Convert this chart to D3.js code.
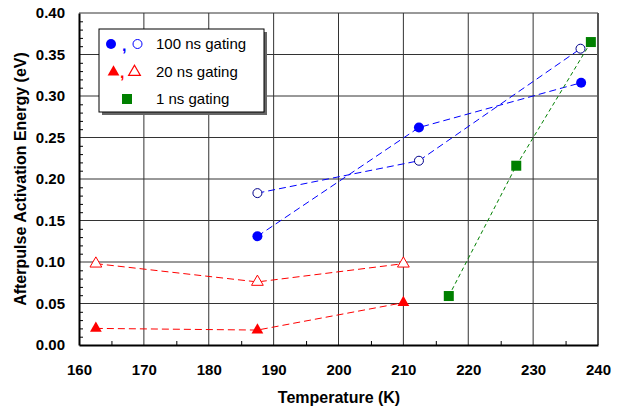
<!DOCTYPE html>
<html>
<head>
<meta charset="utf-8">
<script src="https://cdn.jsdelivr.net/npm/d3@7"></script>
<style>
  body { margin: 0; background: #fff; }
  svg { font-family: 'Liberation Sans', Arial, sans-serif; }
</style>
</head>
<body>
<svg id="chart"></svg>
<script>
// values
const temp100 = [187.5, 212.4, 237.4];
const filled100 = [0.131, 0.262, 0.316];
const tempOpen100 = [187.5, 212.4, 237.3];
const open100 = [0.183, 0.222, 0.357];

const temp20 = [162.6, 187.5, 210.0];
const filled20 = [0.020, 0.018, 0.051];
const open20 = [0.098, 0.076, 0.098];

const temp1 = [217.0, 227.4, 238.9];
const values1 = [0.059, 0.216, 0.365];

const xTicks = [160, 170, 180, 190, 200, 210, 220, 230, 240];
const yTicks = [0, 0.05, 0.10, 0.15, 0.20, 0.25, 0.30, 0.35, 0.40];
const xMinor = [165, 175, 185, 195, 205, 215, 225, 235];
const yMinor = [0.01, 0.02, 0.03, 0.04, 0.06, 0.07, 0.08, 0.09, 0.11, 0.12, 0.13, 0.14,
  0.16, 0.17, 0.18, 0.19, 0.21, 0.22, 0.23, 0.24, 0.26, 0.27, 0.28, 0.29,
  0.31, 0.32, 0.33, 0.34, 0.36, 0.37, 0.38, 0.39];

const legendLabels = ['100 ns gating', '20 ns gating', '1 ns gating'];

const margin = {top: 13, bottom: 65, left: 79, right: 21};
const width = 619 - margin.left - margin.right;
const height = 410 - margin.top - margin.bottom;

const root = d3.select('#chart')
  .attr('width', 619)
  .attr('height', 410);

const svg = root.append('g')
  .attr('transform', `translate(${margin.left}, ${margin.top})`);

const x = d3.scaleLinear().domain([160, 240]).range([0, width]);
const y = d3.scaleLinear().domain([0, 0.40]).range([height, 0]);

// grid
svg.selectAll('.vgrid')
  .data(xTicks.slice(1))
  .enter()
  .append('line')
  .attr('x1', d => x(d)).attr('x2', d => x(d))
  .attr('y1', 0).attr('y2', height)
  .attr('stroke', '#333')
  .attr('stroke-width', 1);

svg.selectAll('.hgrid')
  .data(yTicks.slice(1))
  .enter()
  .append('line')
  .attr('x1', 0).attr('x2', width)
  .attr('y1', d => y(d)).attr('y2', d => y(d))
  .attr('stroke', '#333')
  .attr('stroke-width', 1);

svg.append('line')
  .attr('x1', width).attr('x2', width)
  .attr('y1', 0).attr('y2', height)
  .attr('stroke', '#555')
  .attr('stroke-width', 2);

// minor ticks (inward)
svg.append('g')
  .call(d3.axisLeft(y).tickValues(yMinor).tickSize(-4).tickFormat(''))
  .call(g => g.select('.domain').remove())
  .selectAll('line').attr('stroke', '#000');

svg.append('g')
  .attr('transform', `translate(0, ${height})`)
  .call(d3.axisBottom(x).tickValues(xMinor).tickSize(-4).tickFormat(''))
  .call(g => g.select('.domain').remove())
  .selectAll('line').attr('stroke', '#000');

// main axes
const yAxis = svg.append('g')
  .call(d3.axisLeft(y).tickValues(yTicks).tickSize(0).tickPadding(14).tickFormat(d3.format('.2f')));
yAxis.select('.domain').attr('stroke', '#000').attr('stroke-width', 2);
yAxis.selectAll('text')
  .style('font-family', "'Liberation Sans', Arial, sans-serif")
  .style('font-size', '15px')
  .style('font-weight', 'bold')
  .attr('fill', '#000');

const xAxis = svg.append('g')
  .attr('transform', `translate(0, ${height})`)
  .call(d3.axisBottom(x).tickValues(xTicks).tickSize(0).tickPadding(19).tickFormat(d3.format('d')));
xAxis.select('.domain').attr('stroke', '#000').attr('stroke-width', 2);
xAxis.selectAll('text')
  .style('font-family', "'Liberation Sans', Arial, sans-serif")
  .style('font-size', '15px')
  .style('font-weight', 'bold')
  .attr('fill', '#000');

// dashed lines
function dashed(xs, ys, color, dash) {
  const pts = xs.map((t, i) => [t, ys[i]]);
  svg.append('path')
    .datum(pts)
    .attr('fill', 'none')
    .attr('stroke', color)
    .attr('stroke-width', 1)
    .attr('stroke-dasharray', dash)
    .attr('d', d3.line().x(d => x(d[0])).y(d => y(d[1])));
}

dashed(temp100, filled100, '#0000ff', '7,4');
dashed(tempOpen100, open100, '#0000ff', '7,4');
dashed(temp20, filled20, '#ff0000', '7,4');
dashed(temp20, open20, '#ff0000', '7,4');
dashed(temp1, values1, '#008000', '4,3');

// markers
const tri = d3.symbol().type(d3.symbolTriangle).size(60);

svg.selectAll('.c-filled')
  .data(temp100)
  .enter()
  .append('circle')
  .attr('cx', d => x(d))
  .attr('cy', (d, i) => y(filled100[i]))
  .attr('r', 5)
  .attr('fill', '#0000ff');

svg.selectAll('.c-open')
  .data(tempOpen100)
  .enter()
  .append('circle')
  .attr('cx', d => x(d))
  .attr('cy', (d, i) => y(open100[i]))
  .attr('r', 4.5)
  .attr('fill', '#fff')
  .attr('stroke', '#00008b')
  .attr('stroke-width', 1);

svg.selectAll('.t-filled')
  .data(temp20)
  .enter()
  .append('path')
  .attr('d', tri)
  .attr('transform', (d, i) => `translate(${x(d)}, ${y(filled20[i])})`)
  .attr('fill', '#ff0000');

svg.selectAll('.t-open')
  .data(temp20)
  .enter()
  .append('path')
  .attr('d', tri)
  .attr('transform', (d, i) => `translate(${x(d)}, ${y(open20[i])})`)
  .attr('fill', '#fff')
  .attr('stroke', '#ff0000')
  .attr('stroke-width', 1);

svg.selectAll('.sq')
  .data(temp1)
  .enter()
  .append('rect')
  .attr('x', d => x(d) - 5)
  .attr('y', (d, i) => y(values1[i]) - 5)
  .attr('width', 10)
  .attr('height', 10)
  .attr('fill', '#008000');

// axis titles
root.append('text')
  .attr('x', 339)
  .attr('y', 403)
  .attr('text-anchor', 'middle')
  .style('font-size', '16px')
  .style('font-weight', 'bold')
  .text('Temperature (K)');

root.append('text')
  .attr('transform', 'rotate(-90)')
  .attr('x', -179)
  .attr('y', 26)
  .attr('text-anchor', 'middle')
  .style('font-size', '16px')
  .style('font-weight', 'bold')
  .text('Afterpulse Activation Energy (eV)');

// legend
const lg = root.append('g').attr('transform', 'translate(99, 29)');
lg.append('rect').attr('x', 3).attr('y', 3).attr('width', 165).attr('height', 83).attr('fill', '#666');
lg.append('rect').attr('x', 0).attr('y', 0).attr('width', 165).attr('height', 83)
  .attr('fill', '#fff').attr('stroke', '#000').attr('stroke-width', 1);

lg.append('circle').attr('cx', 12).attr('cy', 15).attr('r', 5).attr('fill', '#0000ff');
lg.append('text').attr('x', 23).attr('y', 22).text(',').style('font-size', '16px').style('font-weight', 'bold').attr('fill', '#0000ff');
lg.append('circle').attr('cx', 38.5).attr('cy', 15).attr('r', 4.5).attr('fill', '#fff').attr('stroke', '#0000ff').attr('stroke-width', 1);

lg.append('path').attr('d', tri).attr('transform', 'translate(14.5, 43)').attr('fill', '#ff0000');
lg.append('text').attr('x', 21).attr('y', 49).text(',').style('font-size', '16px').style('font-weight', 'bold').attr('fill', '#ff0000');
lg.append('path').attr('d', tri).attr('transform', 'translate(35.5, 43)').attr('fill', '#fff').attr('stroke', '#ff0000').attr('stroke-width', 1.2);

lg.append('rect').attr('x', 23).attr('y', 65).attr('width', 10).attr('height', 10).attr('fill', '#008000');

lg.selectAll('.ltext')
  .data(legendLabels)
  .enter()
  .append('text')
  .attr('x', 57)
  .attr('y', (d, i) => 20 + i * 27.5)
  .style('font-size', '15px')
  .text(d => d);
</script>
</body>
</html>
